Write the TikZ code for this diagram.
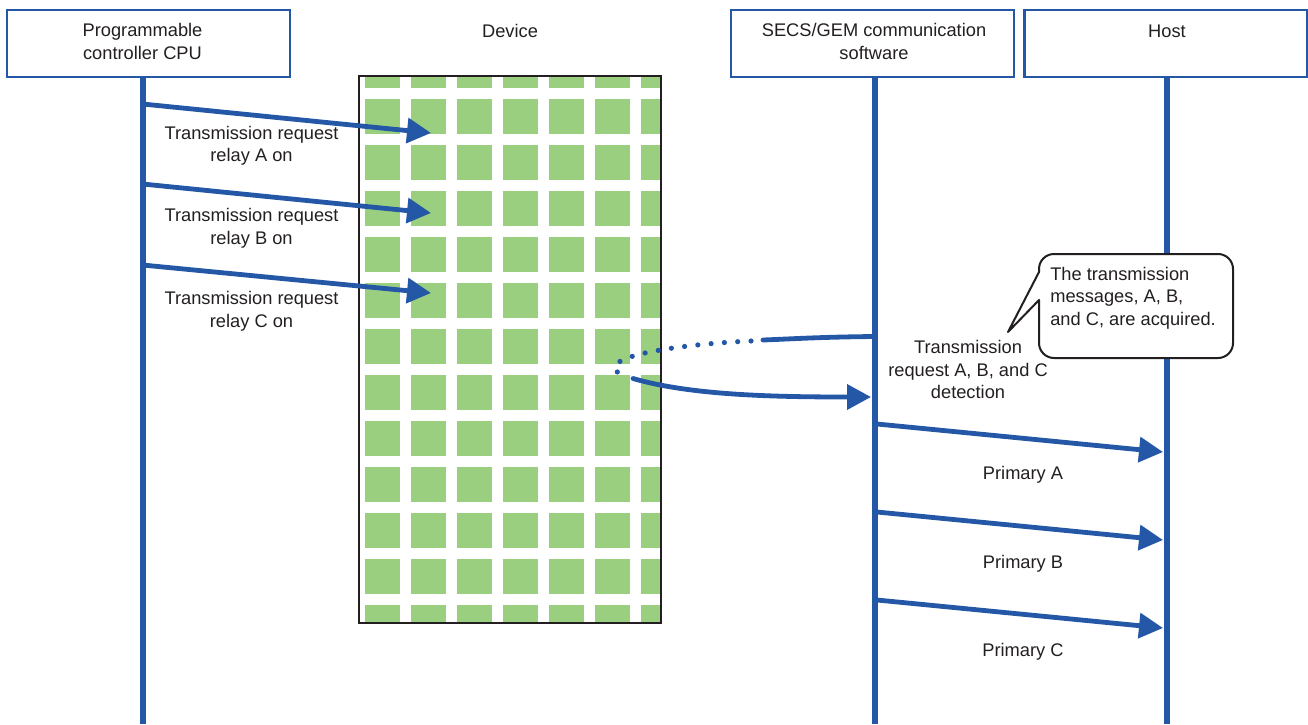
\documentclass[tikz,border=0pt]{standalone}
\usepackage{fontspec}
\setmainfont{Liberation Sans}
\usetikzlibrary{arrows.meta}
\definecolor{lineblue}{RGB}{36,87,166}
\definecolor{cellgreen}{RGB}{155,207,128}
\definecolor{ink}{RGB}{35,31,32}
\begin{document}
\begin{tikzpicture}[x=0.75pt,y=-0.75pt,
  every node/.style={font=\fontsize{13.7pt}{16.9pt}\selectfont, text=ink},
  box/.style={draw=lineblue, line width=1.9pt, fill=white, minimum width=212.25pt, minimum height=50.25pt, inner sep=0pt},
  txt/.style={align=center, inner sep=0pt},
  life/.style={draw=lineblue, line width=4.5pt},
  msg/.style={draw=lineblue, line width=3.6pt, -{Triangle[length=18pt,width=18.5pt]}},
  dotline/.style={draw=lineblue, line width=3.9pt, line cap=round, dash pattern=on 0pt off 10pt},
  solidline/.style={draw=lineblue, line width=3.6pt},
  callout/.style={draw=ink, line width=1.5pt, fill=white, line join=round}
]
\useasboundingbox (0,0) rectangle (1308,724);

% ---------- lifelines ----------
\coordinate (cpuTop) at (142.5,77);
\coordinate (cpuBot) at (142.5,724);
\coordinate (secsTop) at (875,77);
\coordinate (secsBot) at (875,724);
\coordinate (hostTop) at (1167,77);
\coordinate (hostBot) at (1167,724);
\draw[life] (cpuTop) -- (cpuBot);
\draw[life] (secsTop) -- (secsBot);
\draw[life] (hostTop) -- (hostBot);

% ---------- header boxes ----------
\node[box] (cpu) at (148.5,43.5) {};
\node[txt] (cpuname) at (142.5,41.5) {Programmable\\controller CPU};
\node[txt] (devname) at (510,31) {Device};
\node[box] (secs) at (872.5,43.5) {};
\node[txt] (secsname) at (874,41.5) {SECS/GEM communication\\software};
\node[box] (host) at (1166,43.5) {};
\node[txt] (hostname) at (1167,31) {Host};

% ---------- device ----------
\begin{scope}
  \clip (359,76) rectangle (661,623);
  \foreach \i in {0,...,6} {
    \foreach \j in {-1,...,11} {
      \fill[cellgreen] ({365+46*\i},{99+46*\j}) rectangle ++(35,35);
    }
  }
\end{scope}
\node[draw=ink, line width=1.6pt, minimum width=226.5pt, minimum height=410.25pt, inner sep=0pt] (dev) at (510,349.5) {};

% ---------- CPU -> device ----------
\coordinate (sA) at (142.5,104);
\coordinate (tA) at (431,133);
\coordinate (sB) at (142.5,184);
\coordinate (tB) at (431,213);
\coordinate (sC) at (142.5,265);
\coordinate (tC) at (431,293);
\draw[msg] (sA) -- (tA);
\draw[msg] (sB) -- (tB);
\draw[msg] (sC) -- (tC);
\node[txt] (lA) at (251.5,146) {Transmission request\\relay A on};
\node[txt] (lB) at (251.5,228.5) {Transmission request\\relay B on};
\node[txt] (lC) at (251.5,311.5) {Transmission request\\relay C on};

% ---------- detection loop ----------
\coordinate (dS) at (875,336.5);
\coordinate (dM) at (763,340);
\coordinate (dD) at (751,341);
\coordinate (dE) at (627,377.5);
\coordinate (dF) at (633,378.5);
\coordinate (dT) at (871,397);
\draw[solidline, line cap=round] (dS) .. controls (820,337) and (790,339) .. (dM);
\draw[dotline] (dD) .. controls (680,344) and (580,358) .. (dE);
\draw[msg, line cap=round] (dF) .. controls (690,395) and (770,397) .. (dT);
\node[txt] (ldet) at (968,369.5) {Transmission\\request A, B, and C\\detection};

% ---------- callout ----------
\draw[callout] (1039,300) -- (1039,343) .. controls (1039,351.3) and (1045.7,358) .. (1054,358)
  -- (1218,358) .. controls (1226.3,358) and (1233,351.3) .. (1233,343)
  -- (1233,269) .. controls (1233,260.7) and (1226.3,254) .. (1218,254)
  -- (1054,254) .. controls (1045.7,254) and (1039,260.7) .. (1039,269)
  -- (1039,272) -- (1008,332) -- cycle;
\node[align=left, inner sep=0pt, anchor=west] (note) at (1050,298) {The transmission\\messages, A, B,\\and C, are acquired.};

% ---------- SECS -> Host ----------
\coordinate (pA) at (877,424);
\coordinate (hA) at (1163,452);
\coordinate (pB) at (877,512);
\coordinate (hB) at (1163,540);
\coordinate (pC) at (877,600);
\coordinate (hC) at (1163,628);
\draw[msg] (pA) -- (hA);
\draw[msg] (pB) -- (hB);
\draw[msg] (pC) -- (hC);
\node[txt] (lpA) at (1023,475) {Primary A};
\node[txt] (lpB) at (1023,563.5) {Primary B};
\node[txt] (lpC) at (1023,652) {Primary C};
\end{tikzpicture}
\end{document}
